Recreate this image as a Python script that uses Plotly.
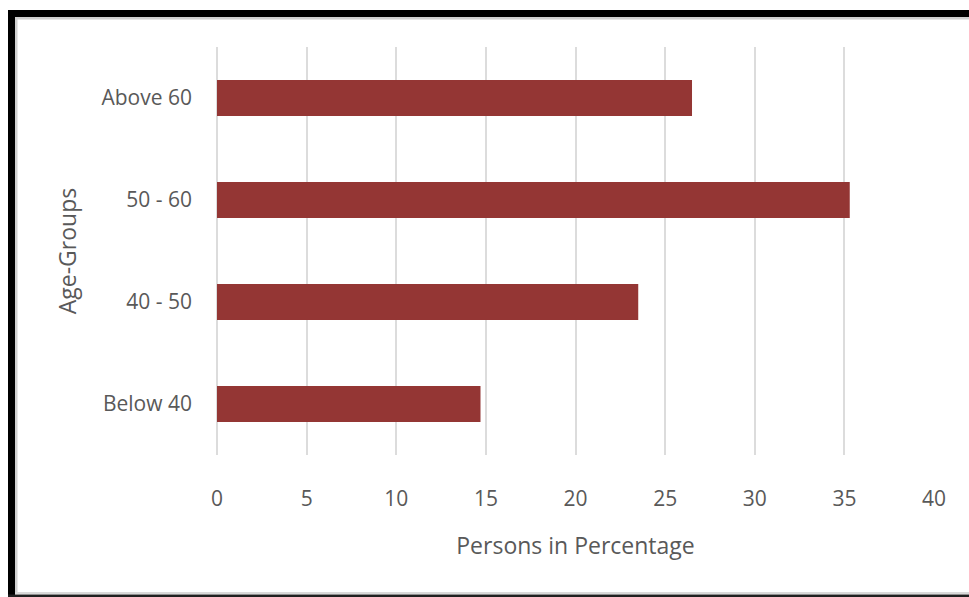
import plotly.graph_objects as go

categories = ["Below 40", "40 - 50", "50 - 60", "Above 60"]
values = [14.7, 23.5, 35.3, 26.5]
x_ticks = [0, 5, 10, 15, 20, 25, 30, 35, 40]

W, H = 969, 597
L, R, T, B = 217, 35, 47, 142
pw, ph = W - L - R, H - T - B

def px(x):
    return (x - L) / pw

def py(y):
    return (H - B - y) / ph

fig = go.Figure(go.Bar(
    x=values, y=categories, orientation="h",
    marker=dict(color="#943634", line=dict(width=0)),
    width=0.353,
))

font_fam = "Open Sans"
fig.update_layout(
    width=W, height=H,
    margin=dict(l=L, r=R, t=T, b=B, pad=0),
    paper_bgcolor="white", plot_bgcolor="white",
    showlegend=False,
    font=dict(family=font_fam, color="#595959", size=21),
    xaxis=dict(
        range=[0, 40], tickvals=x_ticks, ticktext=[str(v) for v in x_ticks],
        showgrid=True, gridcolor="#dcdcdc", gridwidth=1.5,
        zeroline=True, zerolinecolor="#dcdcdc", zerolinewidth=1.5,
        showline=False, ticks="", ticklabelstandoff=29,
        tickfont=dict(size=21, color="#595959"),
        title=dict(text="Persons in Percentage", font=dict(size=23, color="#595959"), standoff=26),
    ),
    yaxis=dict(
        categoryorder="array", categoryarray=categories, range=[-0.5, 3.5],
        showgrid=False, zeroline=False, showline=False, ticks="",
        ticklabelstandoff=24,
        tickfont=dict(size=21, color="#595959"),
        title=dict(text="Age-Groups", font=dict(size=23, color="#595959"), standoff=18),
    ),
)

shapes = [
    dict(type="rect", xref="paper", yref="paper", x0=px(15), x1=px(969), y0=py(17), y1=py(19.5),
         fillcolor="#d0d0d0", line=dict(width=0)),
    dict(type="rect", xref="paper", yref="paper", x0=px(15), x1=px(17.5), y0=py(17), y1=py(593),
         fillcolor="#d0d0d0", line=dict(width=0)),
    dict(type="rect", xref="paper", yref="paper", x0=px(15), x1=px(969), y0=py(592), y1=py(594),
         fillcolor="#d9d9d9", line=dict(width=0)),
    dict(type="rect", xref="paper", yref="paper", x0=px(8), x1=px(969), y0=py(10), y1=py(17),
         fillcolor="black", line=dict(width=0)),
    dict(type="rect", xref="paper", yref="paper", x0=px(8), x1=px(15), y0=py(10), y1=py(597),
         fillcolor="black", line=dict(width=0)),
    dict(type="rect", xref="paper", yref="paper", x0=px(8), x1=px(969), y0=py(594.5), y1=py(597),
         fillcolor="#202020", line=dict(width=0)),
]
fig.update_layout(shapes=shapes)

fig.write_html("out.html")
